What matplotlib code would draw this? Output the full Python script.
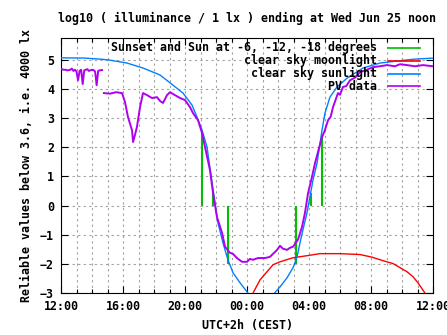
import numpy as np
import matplotlib
matplotlib.use("Agg")
import matplotlib.pyplot as plt
from matplotlib.ticker import MultipleLocator

# hours after 12:00 (Tue) -> log10 illuminance
sun_hours = [0.0, 1.55, 2.65, 3.16, 4.26, 5.29, 6.39, 7.23, 7.87, 8.45, 8.77, 9.10,
             9.42, 9.81, 10.13, 10.45, 10.77, 11.10, 11.55, 12.0, 12.19, 12.9,
             13.61, 14.13, 14.58, 14.97, 15.23, 15.42, 15.61, 15.87, 16.06, 16.26,
             16.52, 16.84, 17.03, 17.35, 17.81, 18.45, 19.48, 20.58, 21.68, 22.71, 24.0]
sun_values = [5.07, 5.06, 5.02, 4.99, 4.89, 4.72, 4.48, 4.13, 3.86, 3.45, 3.04, 2.59,
              2.01, 0.54, -0.60, -1.28, -1.86, -2.31, -2.65, -2.96, -3.1, -3.5,
              -3.1, -2.79, -2.48, -2.13, -1.76, -1.28, -0.83, -0.25, 0.30, 0.88,
              1.46, 2.59, 3.17, 3.72, 4.07, 4.37, 4.72, 4.89, 4.96, 5.02, 5.06]

moon_hours = [12.2, 12.39, 12.84, 13.29, 13.68, 14.13, 14.97, 15.87, 16.71, 18.0, 19.29,
              20.06, 20.77, 21.42, 21.87, 22.32, 22.71, 23.03, 23.48, 23.6]
moon_values = [-3.5, -3.0, -2.55, -2.27, -2.03, -1.93, -1.79, -1.72, -1.65, -1.65, -1.68,
               -1.77, -1.89, -1.99, -2.13, -2.27, -2.44, -2.65, -3.0, -3.3]

pv_hours = [0.06, 0.1, 0.2, 0.3, 0.4, 0.5, 0.6, 0.7, 0.8, 0.9, 1.0, 1.1, 1.2, 1.3,
            1.4, 1.5, 1.6, 1.7, 1.8, 1.9, 2.0, 2.1, 2.2, 2.3, 2.4, 2.5, 2.65, 2.7,
            2.77, 3.16, 3.55, 3.94, 4.13, 4.32, 4.58, 4.65, 4.77, 4.90, 5.10, 5.29,
            5.55, 5.87, 6.19, 6.39, 6.58, 6.84, 7.03, 7.35, 7.68, 8.0, 8.32, 8.52,
            8.84, 9.10, 9.29, 9.61, 9.81, 10.06, 10.39, 10.58, 10.90, 11.1, 11.35,
            11.68, 12.0, 12.19, 12.39, 12.71, 13.16, 13.48, 13.94, 14.13, 14.32,
            14.58, 14.77, 14.97, 15.29, 15.55, 15.74, 15.94, 16.19, 16.39, 16.58,
            16.84, 17.0, 17.23, 17.4, 17.55, 17.87, 18.0, 18.19, 18.4, 18.65, 19.0,
            19.29, 19.68, 20.13, 20.58, 21.03, 21.55, 21.87, 22.32, 22.84, 23.35, 24.0]
pv_values = [4.68, 4.67, 4.66, 4.66, 4.64, 4.65, 4.66, 4.70, 4.62, 4.66, 4.60, 4.30,
             4.62, 4.66, 4.17, 4.64, 4.66, 4.68, 4.62, 4.64, 4.66, 4.65, 4.60, 4.13,
             4.62, 4.64, 4.65, np.nan,
             3.86, 3.84, 3.89, 3.86, 3.55, 3.04, 2.59, 2.18, 2.42, 2.70, 3.38, 3.86,
             3.79, 3.69, 3.72, 3.59, 3.52, 3.79, 3.89, 3.79, 3.69, 3.62, 3.38, 3.17,
             2.93, 2.49, 2.01, 1.22, 0.43, -0.39, -0.94, -1.41, -1.62, -1.66, -1.80,
             -1.93, -1.93, -1.83, -1.86, -1.80, -1.80, -1.76, -1.52, -1.38, -1.48,
             -1.52, -1.45, -1.41, -1.17, -0.73, -0.25, 0.43, 0.98, 1.46, 1.84,
             2.35, 2.55, 2.93, 3.05, 3.38, 3.86, 3.80, 4.07, 4.10, 4.30, 4.40,
             4.58, 4.65, 4.75, 4.78, 4.82, 4.78, 4.85, 4.82, 4.78, 4.82, 4.78]

# sunset / sunrise and sun at -6, -12 degrees
event_hours = [9.08, 9.79, 10.79, 15.13, 16.13, 16.87]
event_tops = [2.50, 0.45, -2.0, -2.0, 0.42, 2.40]

x_ticks = [0, 4, 8, 12, 16, 20, 24]
x_tick_labels = ["12:00", "16:00", "20:00", "00:00", "04:00", "08:00", "12:00"]

GREEN = "#00c000"
RED = "#ff0000"
BLUE = "#0080ff"
PURPLE = "#b000f0"

plt.rcParams["font.family"] = "DejaVu Sans Mono"
plt.rcParams["font.weight"] = "bold"
plt.rcParams["font.size"] = 8.4

W, H = 447, 335
fig = plt.figure(figsize=(W / 100, H / 100), dpi=100)
left, right, top, bottom = 61, 433, 38, 293
ax = fig.add_axes([left / W, 1 - bottom / H, (right - left) / W, (bottom - top) / H])

ax.vlines(event_hours, 0, event_tops, color=GREEN, lw=1.5, zorder=3)
ax.plot(moon_hours, moon_values, color=RED, lw=1.0, zorder=3)
ax.plot(sun_hours, sun_values, color=BLUE, lw=1.0, zorder=4)
ax.plot(pv_hours, pv_values, color=PURPLE, lw=1.4, zorder=5)

ax.set_xlim(0, 24)
ax.set_ylim(-3, 5.75)
ax.set_xticks(x_ticks)
ax.set_xticklabels(x_tick_labels)
ax.xaxis.set_minor_locator(MultipleLocator(1))
ax.yaxis.set_major_locator(MultipleLocator(1))
ax.tick_params(which="both", direction="in", top=True, right=True, width=0.8, pad=5)
ax.tick_params(which="major", length=5)
ax.tick_params(which="minor", length=3)
ax.grid(which="both", axis="x", color="#a0a0a0", ls=(0, (2, 3)), lw=0.8)
ax.grid(which="major", axis="y", color="#a0a0a0", ls=(0, (2, 3)), lw=0.8)
for s in ax.spines.values():
    s.set_linewidth(0.8)

# gnuplot centres title and xlabel over the plot area
cx = (left + right) / 2 / W
fig.text(cx, 1 - 18 / H, "log10 ( illuminance / 1 lx ) ending at Wed Jun 25 noon",
         ha="center", va="center")
fig.text(cx, 1 - 325 / H, "UTC+2h (CEST)", ha="center", va="center")
fig.text(27 / W, 1 - 166 / H, "Reliable values below 3.6, i.e. 4000 lx",
         rotation=90, ha="center", va="center")

# gnuplot-style key: right-aligned text with line sample on the right
key_labels = ["Sunset and Sun at -6, -12, -18 degrees", "clear sky moonlight",
              "clear sky sunlight", "PV data"]
key_colors = [GREEN, RED, BLUE, PURPLE]
for i, (lab, col) in enumerate(zip(key_labels, key_colors)):
    ypx = 48 + i * 12.8
    yf = (bottom - ypx) / (bottom - top)
    ax.text((377 - left) / (right - left), yf, lab, transform=ax.transAxes,
            ha="right", va="center", zorder=6)
    ax.plot([(388 - left) / (right - left), (420 - left) / (right - left)], [yf, yf],
            transform=ax.transAxes, color=col, lw=1.2, zorder=6)

fig.savefig("out.png", dpi=100)
